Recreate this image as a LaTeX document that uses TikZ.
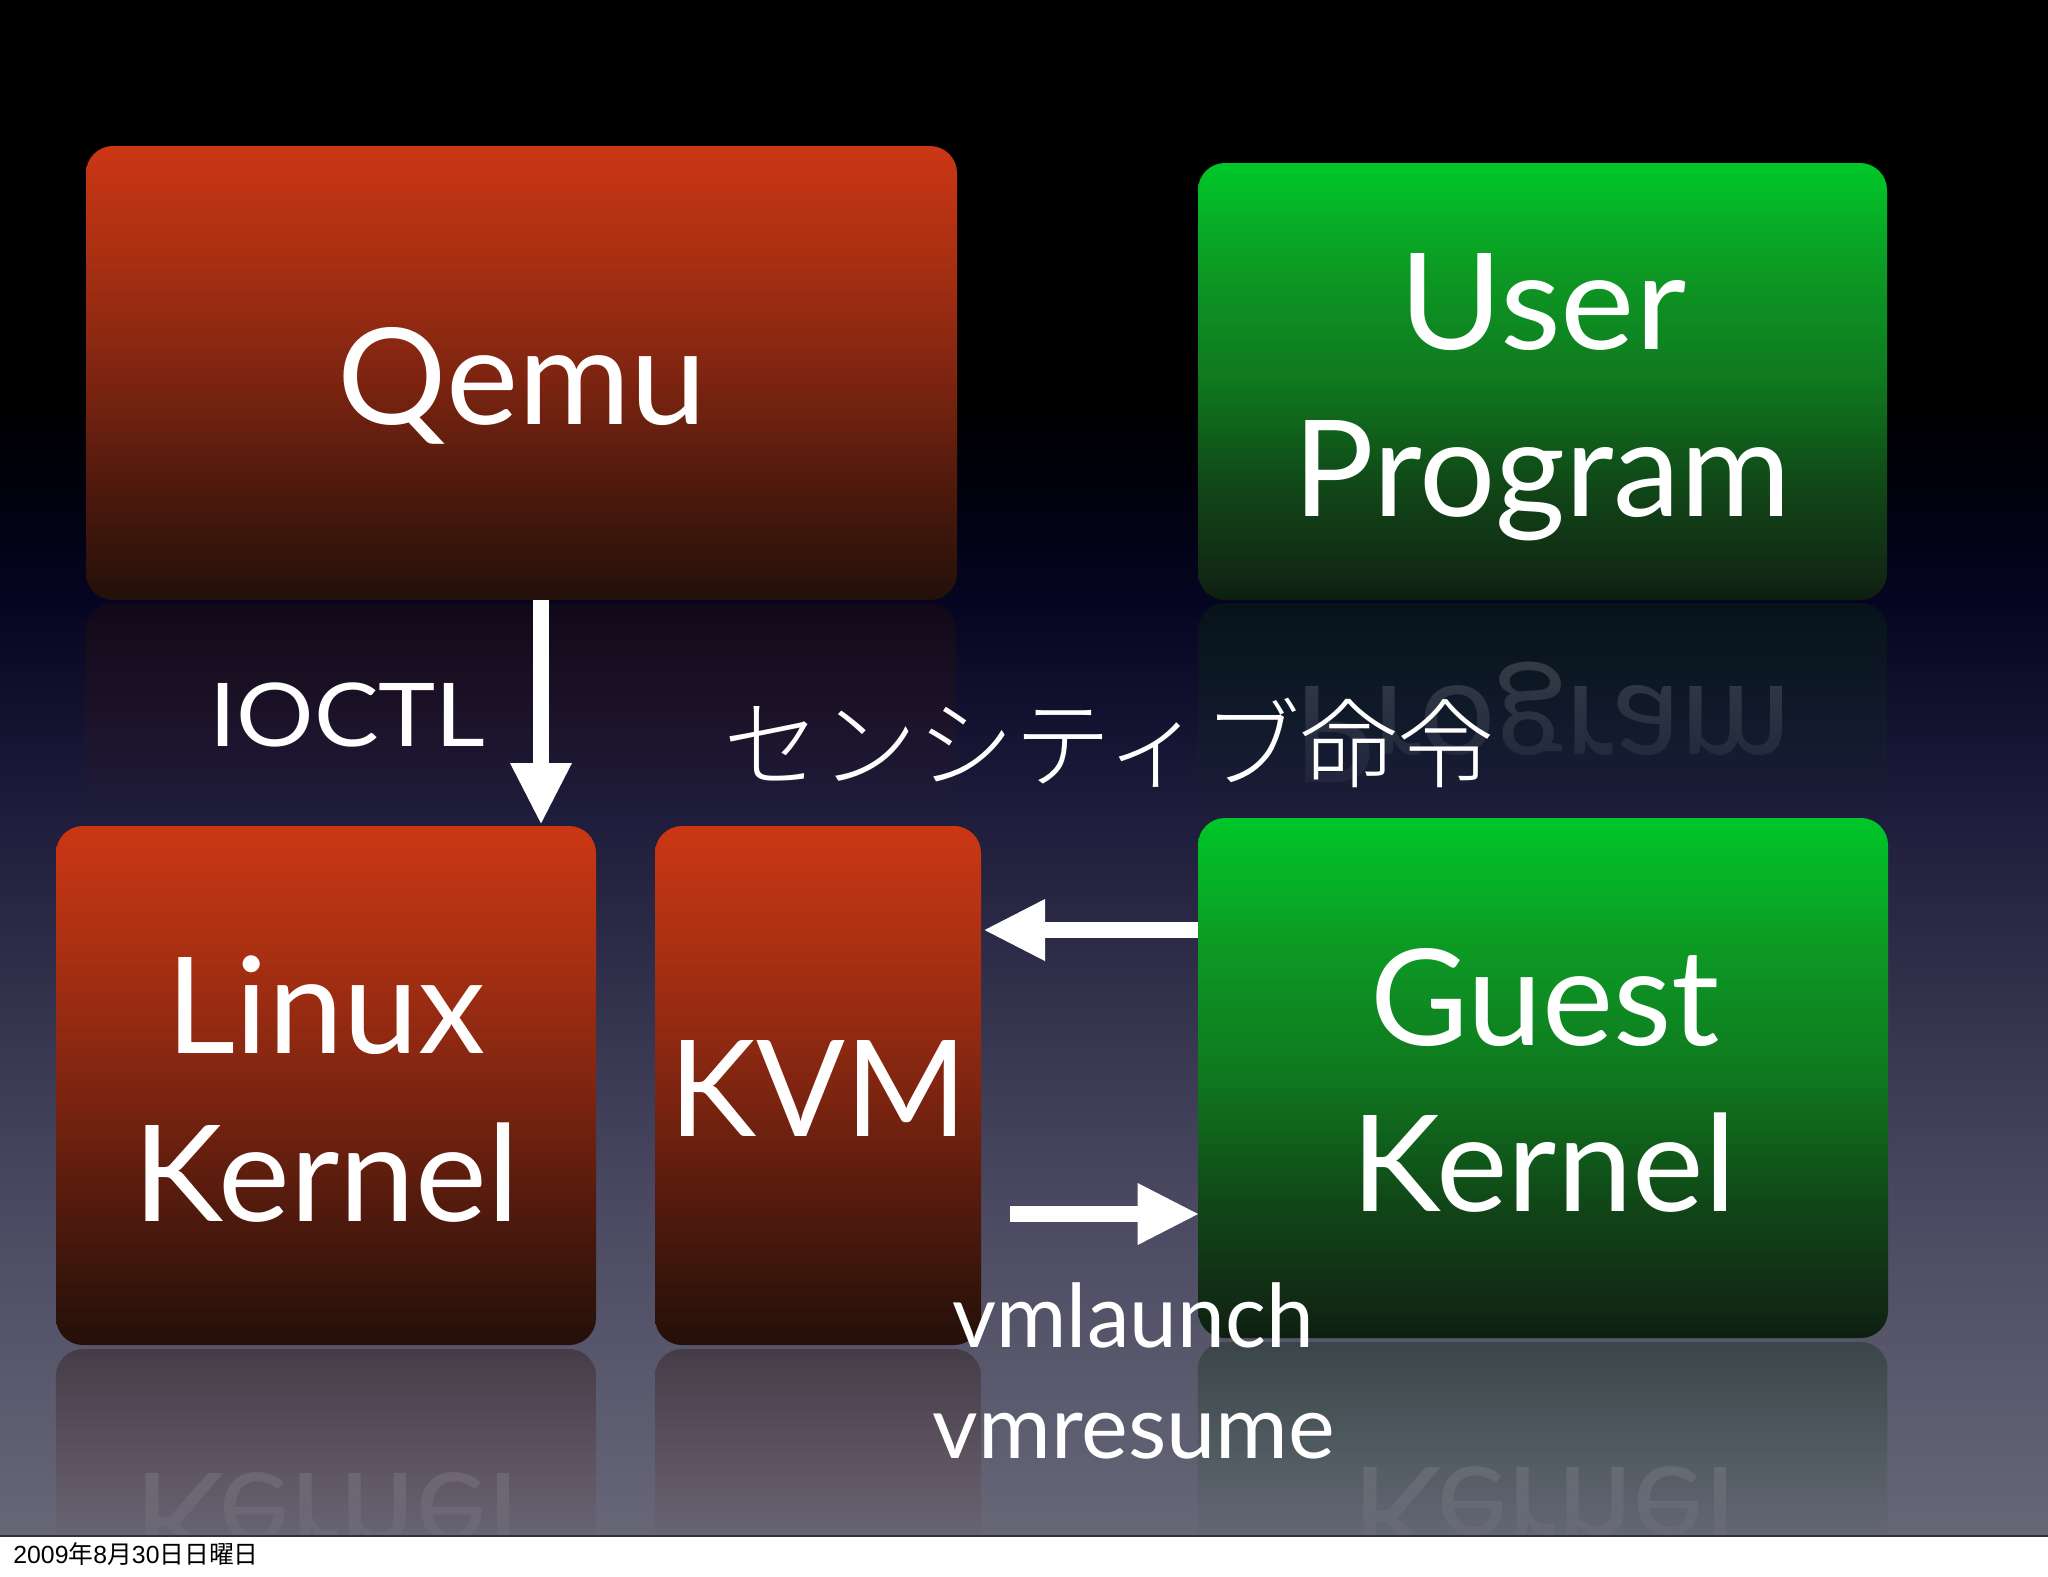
\documentclass[tikz,border=0pt]{standalone}
\usepackage{fontspec}
\usepackage{graphicx}
\usetikzlibrary{arrows.meta,fadings,shadings}
\setmainfont{Lato}
\newfontfamily\cjkfont{Noto Sans CJK JP}
\newfontfamily\cjklight{Noto Sans CJK JP Light}
\newfontfamily\datefont{Liberation Sans}
\pgfdeclareverticalshading{slidebg}{100bp}{%
 rgb(0bp)=(0.404,0.404,0.47);
 rgb(25bp)=(0.404,0.404,0.47);
 rgb(35.94bp)=(0.29,0.285,0.38);
 rgb(42.45bp)=(0.2,0.195,0.3);
 rgb(48.96bp)=(0.11,0.105,0.225);
 rgb(55.47bp)=(0.02,0.02,0.13);
 rgb(58.72bp)=(0.004,0.004,0.06);
 rgb(61.98bp)=(0,0,0);
 rgb(100bp)=(0,0,0)}
\pgfdeclareverticalshading{redgrad}{100bp}{%
 rgb(0bp)=(0.14,0.06,0.04);
 rgb(25bp)=(0.14,0.06,0.04);
 rgb(27.5bp)=(0.17,0.07,0.04);
 rgb(37.5bp)=(0.31,0.10,0.05);
 rgb(50bp)=(0.50,0.145,0.065);
 rgb(62.5bp)=(0.66,0.185,0.07);
 rgb(75bp)=(0.80,0.215,0.08);
 rgb(100bp)=(0.80,0.215,0.08)}
\pgfdeclareverticalshading{greengrad}{100bp}{%
 rgb(0bp)=(0.05,0.12,0.06);
 rgb(25bp)=(0.05,0.12,0.06);
 rgb(27.5bp)=(0.065,0.155,0.08);
 rgb(37.5bp)=(0.065,0.27,0.09);
 rgb(50bp)=(0.06,0.47,0.12);
 rgb(62.5bp)=(0.05,0.60,0.14);
 rgb(75bp)=(0,0.78,0.16);
 rgb(100bp)=(0,0.78,0.16)}
\definecolor{redbot}{HTML}{240F0A}
\definecolor{redmid}{HTML}{6E2411}
\definecolor{greenbot}{HTML}{0B2A0E}
\definecolor{greenmid}{HTML}{0C5A18}
\tikzfading[name=reflfade,top color=transparent!64,bottom color=transparent!100]
\tikzfading[name=textfade,top color=transparent!78,bottom color=transparent!100]
\tikzset{
 redbox/.style={rectangle,rounded corners=13.5pt,inner sep=0pt,shading=redgrad},
 greenbox/.style={rectangle,rounded corners=13.5pt,inner sep=0pt,shading=greengrad},
 big/.style={anchor=base,text=white,inner sep=0pt,font=\fontsize{67}{80}\selectfont},
 small/.style={anchor=base,text=white,inner sep=0pt,font=\fontsize{44}{52}\selectfont},
 block/.style={white,line width=8pt,shorten >=-1pt,-{Triangle[length=31pt,width=28.5pt]}},
 reflred/.style={top color=redbot,bottom color=redmid,path fading=reflfade},
 reflgreen/.style={top color=greenbot,bottom color=greenmid,path fading=reflfade}
}
\newcommand{\sx}[2]{\scalebox{#1}[1]{#2}}
\newcommand{\mirror}[2]{\scalebox{#1}[-1]{#2}}
\newcommand{\reflbox}[5]{% x0,x1,ytop,height,style
 \path[#5] (#1,#3+#4) [sharp corners] -- (#1,#3+27) [rounded corners=13.5pt] -- (#1,#3) -- (#2,#3) [sharp corners] -- (#2,#3+27) -- (#2,#3+#4) -- cycle;}
\begin{document}
\begin{tikzpicture}[x=0.5pt,y=-0.5pt]
\useasboundingbox (0,0) rectangle (2048,1576);
\fill[white] (0,0) rectangle (2048,1576);
\begin{scope}
\clip (0,0) rectangle (2048,1536);
\path[shading=slidebg] (0,0) rectangle (2048,1536);
% reflections
\reflbox{86}{957}{603}{210}{reflred}
\reflbox{1198}{1887}{603}{210}{reflgreen}
\reflbox{56}{596}{1349}{210}{reflred}
\reflbox{655}{981}{1349}{210}{reflred}
\reflbox{1198}{1888}{1342}{210}{reflgreen}
\begin{scope}
\path[scope fading=textfade] (1240,603) rectangle (1840,823);
\node[big] (reflprogram) at (1542.5,687) {\mirror{1.005}{Program}};
\end{scope}
\begin{scope}
\path[scope fading=textfade] (100,1349) rectangle (560,1569);
\node[big] (refllinux) at (326.5,1473) {\mirror{1.013}{Kernel}};
\end{scope}
\begin{scope}
\path[scope fading=textfade] (1300,1342) rectangle (1790,1562);
\node[big] (reflguest) at (1544,1467) {\mirror{1.01}{Kernel}};
\end{scope}
\end{scope}
\draw[black!60!gray,line width=0.75pt] (0,1536) -- (2048,1536);
% boxes
\node[redbox,minimum width=435.5pt,minimum height=227pt] (qemu) at (521.5,373) {};
\node[greenbox,minimum width=344.5pt,minimum height=218.5pt] (user) at (1542.5,381.5) {};
\node[redbox,minimum width=270pt,minimum height=259.5pt] (linux) at (326,1085.5) {};
\node[redbox,minimum width=163pt,minimum height=259.5pt] (kvm) at (818,1085.5) {};
\node[greenbox,minimum width=345pt,minimum height=260pt] (guest) at (1543,1078) {};
% labels
\node[big] (tq) at (522,424) {\sx{1.02}{Qemu}};
\node[big] (tu) at (1543,349) {\sx{1.05}{User}};
\node[big] (tp) at (1542.5,516) {\sx{1.005}{Program}};
\node[big] (tl) at (326,1053) {\sx{1.005}{Linux}};
\node[big] (tk) at (326.5,1221) {\sx{1.013}{Kernel}};
\node[big] (tv) at (818,1136) {\sx{.98}{KVM}};
\node[big] (tg) at (1545,1045) {\sx{1.005}{Guest}};
\node[big] (tj) at (1544,1211) {\sx{1.01}{Kernel}};
\node[small] (ti) at (347.5,746) {\sx{1.1}{IOCTL}};
\node[small] (tm) at (1133,1347) {\sx{.972}{vmlaunch}};
\node[small] (tr) at (1134,1458) {\sx{1.005}{vmresume}};
\node[anchor=base,text=white,inner sep=0pt,font=\cjklight\fontsize{48.5}{54}\selectfont] (ts) at (1109,780) {センシティブ命令};
\node[anchor=base west,inner sep=0pt,text=black,font=\datefont\fontsize{12.4}{14}\selectfont] (td) at (13,1563) {2009{\cjkfont 年}8{\cjkfont 月}30{\cjkfont 日日曜日}};
% arrows
\coordinate (a1) at (541,823);
\coordinate (a2s) at (1010,1214);
\coordinate (a3) at (985,930);
\draw[block] (qemu.south -| a1) -- (a1);
\draw[block] (a2s) -- (guest.west |- a2s);
\draw[block] (guest.west |- a3) -- (a3);
\end{tikzpicture}
\end{document}
